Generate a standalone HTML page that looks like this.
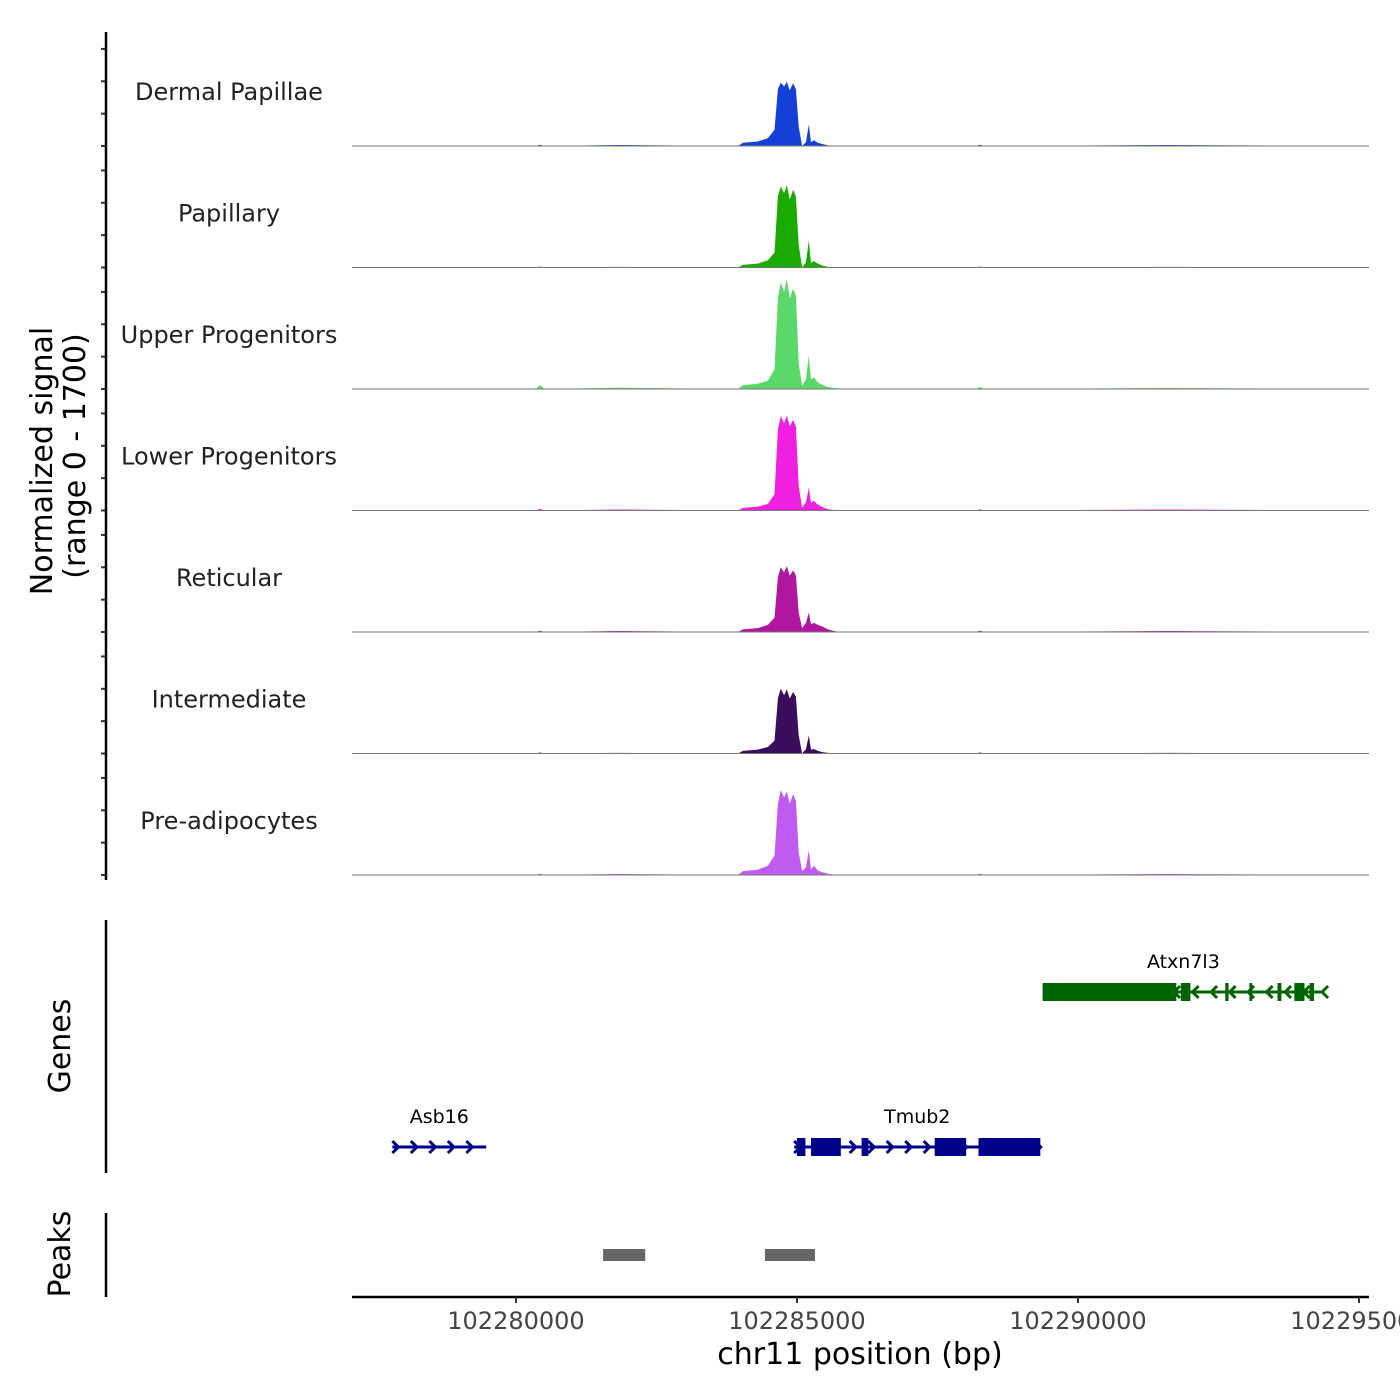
<!DOCTYPE html>
<html><head><meta charset="utf-8"><style>
body{margin:0;background:#fff}
svg{display:block;font-family:"DejaVu Sans","Liberation Sans",sans-serif}
</style></head><body>
<svg id="c" width="1400" height="1400" viewBox="0 0 1400 1400"></svg>
<script>
const positions=[102277100,102278500,102280350,102280430,102280510,102281800,102283950,102284040,102284300,102284480,102284600,102284660,102284710,102284770,102284820,102284870,102284930,102284980,102285030,102285090,102285160,102285210,102285250,102285300,102285370,102285460,102285550,102285730,102285990,102288180,102288260,102288340,102291600,102295100];
const trackNames=["Dermal Papillae","Papillary","Upper Progenitors","Lower Progenitors","Reticular","Intermediate","Pre-adipocytes"];
const trackColors=["#1440d8","#1aaa00","#5ad96a","#f020e0","#b0169f","#3a0c5c","#c05af0"];
const sigDermal=[0,0,0,20,0,15,0,50,70,120,250,880,980,920,990,860,970,880,300,0,60,330,60,90,50,30,10,0,0,0,20,0,15,0];
const sigPapillary=[0,0,0,15,0,10,0,40,60,110,230,1100,1250,1150,1270,1050,1200,1100,350,0,80,420,70,100,60,30,10,0,0,0,15,0,10,0];
const sigUpper=[0,0,0,60,0,20,0,60,80,130,300,1400,1650,1500,1700,1400,1550,1450,400,50,150,520,150,180,100,60,30,10,0,0,30,0,15,0];
const sigLower=[0,0,0,25,0,15,0,40,60,100,250,1250,1460,1350,1470,1300,1400,1300,380,40,130,350,120,150,90,50,20,0,0,0,20,0,15,0];
const sigReticular=[0,0,0,20,0,15,0,40,60,110,220,850,1000,920,1020,870,950,880,300,60,140,300,120,140,110,80,40,0,0,0,20,0,15,0];
const sigIntermediate=[0,0,0,15,0,10,0,40,60,100,200,850,1000,900,990,850,950,880,280,0,70,280,60,70,40,20,10,0,0,0,15,0,10,0];
const sigPreadipo=[0,0,0,20,0,15,0,60,80,140,300,1100,1310,1200,1290,1100,1250,1150,350,60,120,380,90,140,70,40,20,0,0,0,20,0,15,0];
const signals=[sigDermal,sigPapillary,sigUpper,sigLower,sigReticular,sigIntermediate,sigPreadipo];
const xTicks=[102280000,102285000,102290000,102295000];
const xTickLabels=["102280000","102285000","102290000","102295000"];
const peakStarts=[102281550,102284430];
const peakEnds=[102282300,102285320];
const genes=["Atxn7l3","Asb16","Tmub2"];
const geneStarts=[102289370,102277800,102284950];
const geneEnds=[102294380,102279470,102289330];
const geneStrand=[-1,1,1];
const geneRow=[0,1,1];
const exonGene=[0,0,0,0,0,0,0,2,2,2,2,2,2];
const exonStarts=[102289370,102291830,102292620,102293050,102293550,102293850,102294120,102285000,102285250,102286150,102287450,102288230,102280000];
const exonEnds=[102291750,102292000,102292680,102293100,102293620,102294030,102294200,102285150,102285780,102286270,102288010,102289330,102280000];
const ymax=1700;
const NS="http://www.w3.org/2000/svg";
const svg=document.getElementById('c');
function el(t,a,p){const e=document.createElementNS(NS,t);for(const k in a)e.setAttribute(k,a[k]);(p||svg).appendChild(e);return e;}
const x0=352,x1=1369,bp0=102277082,bp1=102295178;
function sx(b){return x0+(b-bp0)/(bp1-bp0)*(x1-x0);}
const base0=146,step=121.5,trackH=110;
function sy(v,i){return base0+i*step-v/ymax*trackH;}
signals.forEach((s,i)=>{
  const g=el('g',{});
  
  
  let d='M'+sx(positions[0])+','+sy(0,i);
  positions.forEach((p,j)=>{d+=' L'+sx(p).toFixed(1)+','+sy(s[j],i).toFixed(1);});
  d+=' L'+sx(positions[positions.length-1])+','+sy(0,i)+'Z';
  const a=el('path',{d:d,fill:trackColors[i]},g);
  
  
  const b=el('line',{x1:x0,x2:x1,y1:sy(0,i),y2:sy(0,i),stroke:'#777','stroke-width':1},g);
  
  
  const t=el('text',{x:229,y:sy(0,i)-46,'text-anchor':'middle','font-size':24,fill:'#222'},g);
  t.textContent=trackNames[i];
  
  
  for(let k=0;k<=3;k++){const tk=el('line',{x1:101,x2:106,y1:sy(k*500,i),y2:sy(k*500,i),stroke:'#333','stroke-width':2},g);
    
    }
});
let ax=el('line',{x1:106,x2:106,y1:32,y2:880,stroke:'#000','stroke-width':2.5});


let yt=el('text',{transform:'translate(52,461) rotate(-90)','text-anchor':'middle','font-size':30,fill:'#000'});
yt.textContent='Normalized signal';


let yt2=el('text',{transform:'translate(85,456) rotate(-90)','text-anchor':'middle','font-size':30,fill:'#000'});
yt2.textContent='(range 0 - 1700)';


let gl=el('line',{x1:106,x2:106,y1:920,y2:1173,stroke:'#000','stroke-width':2.5});


let gt=el('text',{transform:'translate(70,1046) rotate(-90)','text-anchor':'middle','font-size':30});
gt.textContent='Genes';


const gcol=['#006400','#00008b','#00008b'];
genes.forEach((n,i)=>{
  const y=geneRow[i]?1147:992,c=gcol[i];
  const g=el('g',{});
  
  
  el('line',{x1:sx(geneStarts[i]),x2:sx(geneEnds[i]),y1:y,y2:y,stroke:c,'stroke-width':3},g);
  const xs=sx(geneStarts[i]),xe=sx(geneEnds[i]);
  for(let x=xs+4;x<=xe;x+=18.5){
    const dd=geneStrand[i]>0?`M${x-4},${y-6} L${x+2},${y} L${x-4},${y+6}`:`M${x+4},${y-6} L${x-2},${y} L${x+4},${y+6}`;
    el('path',{d:dd,stroke:c,'stroke-width':3,fill:'none'},g);
  }
  exonGene.forEach((gi,k)=>{if(gi===i&&exonEnds[k]>exonStarts[k])el('rect',{x:sx(exonStarts[k]),y:y-9,width:sx(exonEnds[k])-sx(exonStarts[k]),height:18,fill:c},g);});
  const t=el('text',{x:(xs+xe)/2,y:y-24,'text-anchor':'middle','font-size':19,fill:'#000'},g);
  t.textContent=n;
});
let pl=el('line',{x1:106,x2:106,y1:1213,y2:1297,stroke:'#000','stroke-width':2.5});


let pt=el('text',{transform:'translate(70,1254) rotate(-90)','text-anchor':'middle','font-size':30});
pt.textContent='Peaks';


peakStarts.forEach((s,i)=>{
  const r=el('rect',{x:sx(s),y:1249,width:sx(peakEnds[i])-sx(s),height:12,fill:'#666'});
  
  
});
let xl=el('line',{x1:x0,x2:x1,y1:1297,y2:1297,stroke:'#000','stroke-width':2.5});


xTicks.forEach((t,i)=>{
  const tk=el('line',{x1:sx(t),x2:sx(t),y1:1297,y2:1303,stroke:'#333','stroke-width':2});
  
  
  const tl=el('text',{x:sx(t),y:1329,'text-anchor':'middle','font-size':24,fill:'#444'});
  tl.textContent=xTickLabels[i];
  
  
});
let xt=el('text',{x:860,y:1364,'text-anchor':'middle','font-size':30,fill:'#000'});
xt.textContent='chr11 position (bp)';


</script>
</body></html>
